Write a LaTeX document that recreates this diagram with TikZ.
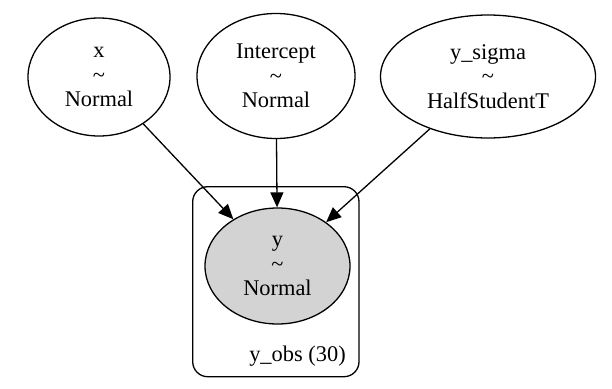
\documentclass[tikz,border=0pt]{standalone}
\usepackage{fontspec}
\setmainfont{Liberation Serif}
\usetikzlibrary{shapes.geometric,arrows.meta}
\tikzset{
  rv/.style={ellipse, draw, line width=1.3pt, inner sep=0pt, align=center,
    font=\fontsize{22.4}{24.5}\selectfont},
  obs/.style={rv, fill={rgb,255:red,211;green,211;blue,211}},
  edge/.style={line width=1.3pt, -{Triangle[length=15pt,width=13pt]}},
  plate/.style={draw, line width=1.3pt, rounded corners=15pt}
}
\begin{document}
\begin{tikzpicture}[x=1pt,y=-1pt]
\useasboundingbox (0,0) rectangle (612,388);
\draw[plate] (192.7,186.7) rectangle (359,376.7);
\node[font=\fontsize{22.4}{24.5}\selectfont] (plab) at (297.5,356) {y\_obs (30)};
\node[rv, minimum width=142pt, minimum height=118pt] (x) at (99,77) {x\\\textasciitilde\\Normal};
\node[rv, minimum width=158pt, minimum height=125pt] (ic) at (276,76) {Intercept\\\textasciitilde\\Normal};
\node[rv, minimum width=215pt, minimum height=123pt] (ys) at (488,76.5) {y\_sigma\\\textasciitilde\\HalfStudentT};
\node[obs, minimum width=145pt, minimum height=116pt] (y) at (277.5,266) {y\\\textasciitilde\\Normal};
\draw[edge] (x) -- (y);
\draw[edge] (ic) -- (y);
\draw[edge] (ys) -- (y);
\end{tikzpicture}
\end{document}
